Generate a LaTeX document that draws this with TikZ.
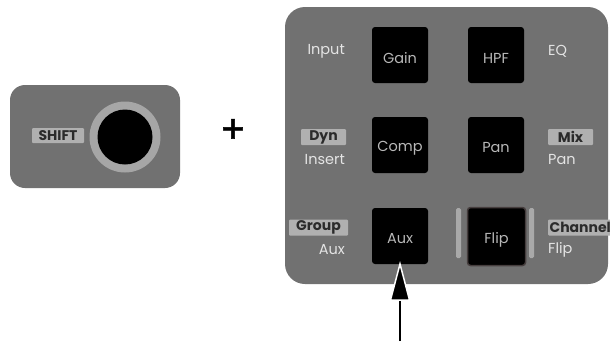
\documentclass[tikz,border=0pt]{standalone}
\usepackage{fontspec}
\setmainfont{Poppins}
\begin{document}
\begin{tikzpicture}[x=1pt,y=-1pt,
  panel/.style={fill=panelgrey,rounded corners=15pt},
  btn/.style={fill=black,rounded corners=3pt,minimum width=56pt,minimum height=56pt,inner sep=0pt},
  btnlbl/.style={text=btntext,font=\fontsize{14.5}{16}\selectfont,inner sep=0pt},
  lbl/.style={text=lbltext,font=\fontsize{14.5}{16}\selectfont,inner sep=0pt},
  tag/.style={fill=taggrey,text=tagtext,font=\bfseries\fontsize{14}{16}\selectfont,inner sep=0pt,
    minimum height=16pt,rounded corners=1pt},
  bar/.style={fill=bargrey,rounded corners=1.5pt}]
\definecolor{panelgrey}{HTML}{717171}
\definecolor{taggrey}{HTML}{B0B0B0}
\definecolor{tagtext}{HTML}{2B2B2B}
\definecolor{lbltext}{HTML}{E4E4E4}
\definecolor{btntext}{HTML}{B8B8B8}
\definecolor{ringgrey}{HTML}{A6A6A6}
\definecolor{bargrey}{HTML}{A9A9A9}
\useasboundingbox (0,0) rectangle (610,341);
\fill[white] (0,0) rectangle (610,341);
% shift panel
\fill[panel] (10,85) rectangle (180,188);
\node[circle,fill=ringgrey,minimum size=71pt,inner sep=0pt] (ring) at (125,137) {};
\node[circle,fill=black,minimum size=55pt,inner sep=0pt] (knob) at (ring.center) {};
\node[tag,minimum width=52pt,font=\bfseries\fontsize{14}{16}\selectfont,minimum height=15pt] (shift) at (58,135.5) {SHIFT};
% plus
\node[font=\fontsize{38}{40}\selectfont\addfontfeature{FakeBold=1.2},inner sep=0pt] (plus) at (233,131) {+};
% main panel
\fill[panel,rounded corners=20pt] (285,7) rectangle (608,284);
\node[btn] (gain) at (400,55) {};
\node[btn] (hpf) at (496,55) {};
\node[btn] (comp) at (400,145) {};
\node[btn] (pan) at (496,145) {};
\node[btn] (aux) at (400,236) {};
\node[btn,draw={rgb,255:red,70;green,62;blue,62},line width=1.5pt,minimum width=58pt,minimum height=58pt] (flip) at (496.5,236.5) {};
\node[btnlbl] (gaint) at ([yshift=-3pt]gain.center) {Gain};
\node[btnlbl] (hpft) at ([yshift=-3pt]hpf.center) {HPF};
\node[btnlbl] (compt) at ([yshift=-3pt]comp.center) {Comp};
\node[btnlbl] (pant) at ([yshift=-3pt]pan.center) {Pan};
\node[btnlbl] (auxt) at ([yshift=-3pt]aux.center) {Aux};
\node[btnlbl] (flipt) at ([yshift=-3pt]flip.center) {Flip};
\fill[bar] (456,208) rectangle (461,258);
\fill[bar] (529,208) rectangle (534,258);
% labels
\node[lbl,anchor=east] (input) at (345,51) {Input};
\node[lbl,anchor=west] (eq) at (548,51) {EQ};
\node[tag,minimum width=45pt] (dyn) at (323.5,137) {Dyn};
\node[lbl,anchor=east] (insert) at (345,160) {Insert};
\node[tag,minimum width=45pt] (mix) at (570.5,137) {Mix};
\node[lbl,anchor=west] (panl) at (548,160) {Pan};
\node[tag,minimum width=59pt] (group) at (318.5,227.5) {Group};
\node[tag,anchor=west,minimum width=64pt] (channel) at (548,227.5) {Channel};
\node[lbl,anchor=west] (flipl) at (548,250) {Flip};
\node[lbl,anchor=east] (auxl) at (345,250) {Aux};
% arrow
\coordinate (tail) at (400,341);
\coordinate (tip) at (400,264);
\draw[line width=1.3pt] (tail) -- (400,298);
\filldraw[fill=black,draw=white,line width=1.5pt,line join=miter] (tip) -- (409.5,300) -- (390.5,300) -- cycle;
\end{tikzpicture}
\end{document}
